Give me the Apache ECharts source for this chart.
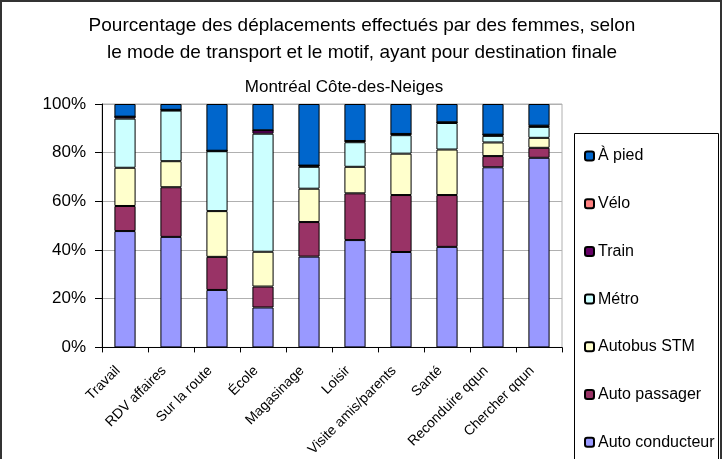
<!DOCTYPE html>
<html><head><meta charset="utf-8">
<script src="https://cdn.jsdelivr.net/npm/echarts@6/dist/echarts.min.js"></script>
<style>html,body{margin:0;padding:0;background:#fff}#c{width:723px;height:459px}</style>
</head><body><div id="c"></div>
<script>
const categories = ['Travail','RDV affaires','Sur la route','École','Magasinage','Loisir','Visite amis/parents','Santé','Reconduire qqun','Chercher qqun'];
const autoConducteur = [47.8, 45.4, 23.6, 16.4, 37.3, 44.1, 39.2, 41.3, 74.0, 77.9];
const autoPassager   = [10.3, 20.4, 13.6, 8.6, 14.2, 19.2, 23.4, 21.3, 4.6, 4.1];
const autobusSTM     = [15.7, 10.7, 18.8, 14.3, 13.7, 10.9, 17.0, 18.7, 5.6, 4.1];
const metro          = [20.2, 20.8, 24.6, 48.5, 9.0, 10.1, 7.6, 10.9, 2.7, 4.5];
const train          = [0.8, 0.3, 0.2, 1.4, 0.5, 0.5, 0.5, 0.3, 0.5, 0.3];
const velo           = [0, 0, 0, 0, 0, 0, 0, 0, 0, 0.2];
const aPied          = [5.2, 2.4, 19.2, 10.8, 25.3, 15.2, 12.3, 7.5, 12.6, 8.9];
const yTicks = [0, 20, 40, 60, 80, 100];

const seriesDefs = [
  ['Auto conducteur', autoConducteur, '#9999FF'],
  ['Auto passager', autoPassager, '#993366'],
  ['Autobus STM', autobusSTM, '#FFFFCC'],
  ['Métro', metro, '#CCFFFF'],
  ['Train', train, '#660066'],
  ['Vélo', velo, '#FF8080'],
  ['À pied', aPied, '#0066CC']
];
const FONT = '"Liberation Sans", Arial, sans-serif';
const chart = echarts.init(document.getElementById('c'), null, {renderer:'canvas'});
chart.setOption({
  animation: false,
  backgroundColor: '#fff',
  textStyle: {fontFamily: FONT},
  title: [
    {text: 'Pourcentage des déplacements effectués par des femmes, selon\nle mode de transport et le motif, ayant pour destination finale',
     left: 362, textAlign: 'center', top: 12, padding: 0,
     textStyle: {fontFamily: FONT, fontSize: 19, fontWeight: 'normal', color: '#000', lineHeight: 27}},
    {text: 'Montréal Côte-des-Neiges', left: 344, textAlign: 'center', top: 78, padding: 0,
     textStyle: {fontFamily: FONT, fontSize: 17, fontWeight: 'normal', color: '#000', lineHeight: 18}}
  ],
  grid: {left: 102, right: 161, top: 104, bottom: 110, show: true, borderColor: '#b0b0b0', borderWidth: 1},
  legend: {
    orient: 'vertical', left: 584, top: 148, padding: 0, height: 340, itemWidth: 9, itemHeight: 9, itemGap: 31.7,
    data: ['À pied','Vélo','Train','Métro','Autobus STM','Auto passager','Auto conducteur'],
    textStyle: {fontFamily: FONT, fontSize: 16, color: '#000', lineHeight: 16, padding: [0,0,0,-1]}
  },
  xAxis: {
    type: 'category', data: categories,
    axisLine: {lineStyle: {color: '#000'}},
    axisTick: {show: true, alignWithLabel: false, length: 5, lineStyle: {color: '#000'}},
    axisLabel: {rotate: 45, interval: 0, fontSize: 14, color: '#000', margin: 14, padding: [0, 10, 0, 0], fontFamily: FONT}
  },
  yAxis: {
    type: 'value', min: 0, max: 100, interval: 20,
    axisLine: {show: true, lineStyle: {color: '#000'}},
    axisTick: {show: true, length: 7, lineStyle: {color: '#000'}},
    axisLabel: {formatter: v => yTicks.includes(v) ? v + '%' : '', fontSize: 17, color: '#000', margin: 16, fontFamily: FONT},
    splitLine: {show: true, lineStyle: {color: '#b0b0b0'}}
  },
  series: seriesDefs.map(([name, data, color]) => ({
    name, type: 'bar', stack: 'total', data, barWidth: '46%',
    itemStyle: {color, borderColor: '#000', borderWidth: 1}
  })),
  graphic: [
    {type: 'rect', shape: {x: 574.5, y: 133.5, width: 144, height: 340}, style: {fill: 'none', stroke: '#000', lineWidth: 1}, z: 100},
    {type: 'rect', shape: {x: 1, y: 1, width: 720, height: 470}, style: {fill: 'none', stroke: '#333', lineWidth: 2}, z: 100}
  ]
});
</script></body></html>
